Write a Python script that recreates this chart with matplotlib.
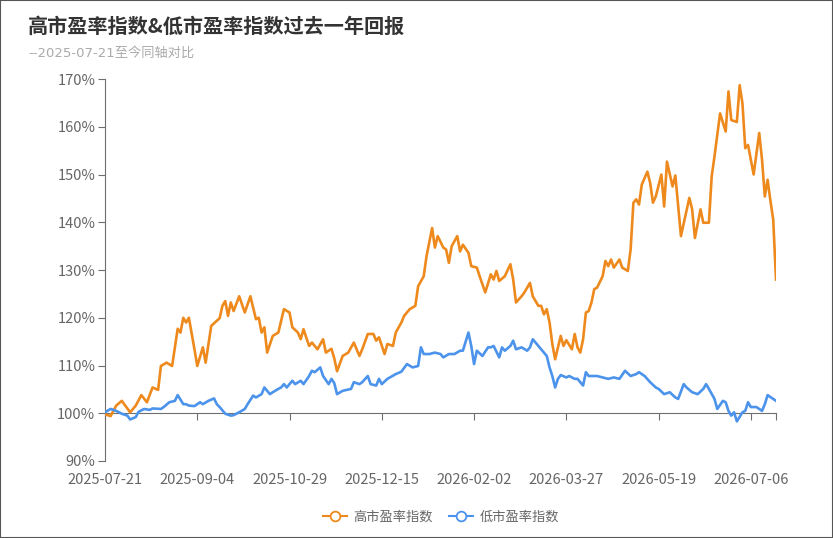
import matplotlib

matplotlib.use("Agg")
import matplotlib.pyplot as plt
from matplotlib.lines import Line2D
from matplotlib.patches import Rectangle
from matplotlib.ticker import FuncFormatter

plt.rcParams["font.family"] = ["Noto Sans CJK SC", "DejaVu Sans"]

TITLE = "高市盈率指数&低市盈率指数过去一年回报"
SUBTITLE = "--2025-07-21至今同轴对比"
HIGH_NAME = "高市盈率指数"
LOW_NAME = "低市盈率指数"

# trading-day index of each tick label (every 33 trading days)
tick_labels = ["2025-07-21", "2025-09-04", "2025-10-29", "2025-12-15",
               "2026-02-02", "2026-03-27", "2026-05-19", "2026-07-06"]
tick_step = 33
last_day = 240

# 高市盈率指数, % of start value, at trading-day index
high_idx = [0, 2, 4, 6, 9, 11, 13, 15, 17, 19, 20, 22, 24, 26, 27, 28, 29, 30,
            32, 33, 35, 36, 38, 41, 42, 43, 44, 45, 46, 48, 50, 52, 54, 55, 56,
            57, 58, 60, 62, 64, 66, 67, 69, 70, 71, 73, 74, 76, 78, 79, 81, 82,
            83, 85, 87, 89, 91, 92, 94, 96, 97, 98, 100, 101, 103, 104, 106, 107,
            109, 111, 112, 114, 115, 117, 118, 119, 121, 122, 123, 124, 126, 127,
            128, 130, 131, 133, 134, 136, 138, 139, 140, 141, 143, 145, 146, 147,
            149, 150, 152, 153, 155, 156, 157, 158, 159, 160, 161, 163, 164, 165,
            167, 168, 169, 170, 171, 172, 173, 174, 175, 176, 178, 179, 180, 181,
            182, 184, 185, 187, 188, 189, 190, 191, 192, 194, 195, 196, 197, 199,
            200, 201, 203, 204, 206, 209, 210, 211, 213, 214, 216, 217, 218, 220,
            222, 223, 224, 226, 227, 228, 229, 230, 232, 234, 235, 236, 237, 238,
            239, 240]
high_val = [99.8, 99.4, 101.6, 102.6, 100.2, 101.6, 103.8, 102.3, 105.4, 104.9,
            109.9, 110.6, 109.9, 117.7, 116.9, 120.0, 119.0, 120.0, 113.4, 109.9,
            113.8, 110.6, 118.3, 119.9, 122.5, 123.5, 120.4, 123.2, 121.4, 124.5,
            121.1, 124.5, 119.7, 120.0, 116.9, 118.0, 112.7, 116.2, 116.9, 121.8,
            121.1, 118.0, 116.9, 115.5, 117.6, 114.1, 114.8, 113.4, 115.5, 112.7,
            113.5, 111.5, 108.8, 112.0, 112.7, 114.8, 112.0, 113.4, 116.6, 116.6,
            115.2, 115.9, 112.4, 114.5, 114.1, 116.9, 119.0, 120.4, 121.8, 122.5,
            126.6, 128.7, 132.9, 138.8, 134.7, 137.1, 134.7, 134.3, 131.5, 135.0,
            137.1, 133.9, 135.3, 133.6, 130.8, 130.5, 128.7, 125.3, 129.1, 128.0,
            129.8, 127.7, 128.7, 131.2, 128.0, 123.2, 124.5, 125.3, 127.3, 124.5,
            122.5, 122.5, 120.7, 121.8, 119.0, 114.5, 111.3, 116.2, 114.1, 115.3,
            113.4, 116.6, 113.8, 112.7, 115.5, 121.1, 121.4, 123.2, 126.0, 126.3,
            128.7, 131.9, 130.8, 132.2, 130.5, 132.2, 130.5, 129.8, 134.3, 144.1,
            144.8, 143.7, 147.9, 150.6, 148.2, 144.1, 145.4, 150.0, 143.3, 152.7,
            147.5, 149.8, 137.1, 145.1, 142.7, 136.7, 142.7, 139.9, 139.9, 149.6,
            153.8, 162.8, 159.0, 167.4, 161.4, 161.0, 168.7, 164.9, 155.5, 156.2,
            150.0, 158.7, 153.1, 145.4, 148.9, 144.5, 140.6, 128.0]

# 低市盈率指数
low_idx = [0, 2, 4, 6, 8, 9, 11, 12, 14, 16, 17, 20, 21, 23, 25, 26, 28, 29, 30,
           32, 34, 35, 37, 39, 40, 41, 43, 45, 46, 48, 50, 51, 53, 54, 56, 57, 59,
           60, 62, 63, 64, 65, 67, 68, 70, 71, 73, 74, 75, 77, 78, 80, 81, 82, 83,
           85, 88, 89, 91, 92, 94, 95, 97, 98, 99, 101, 104, 106, 108, 110, 112,
           113, 114, 116, 118, 120, 121, 123, 125, 127, 128, 130, 131, 132, 133,
           135, 137, 138, 139, 141, 142, 143, 145, 146, 147, 149, 151, 152, 153,
           155, 157, 158, 159, 160, 161, 162, 163, 165, 166, 168, 169, 171, 172,
           173, 176, 178, 180, 182, 184, 186, 188, 190, 191, 193, 195, 197, 198,
           200, 202, 204, 205, 207, 208, 210, 212, 214, 215, 216, 218, 219, 221,
           222, 223, 224, 225, 226, 228, 229, 230, 231, 233, 235, 236, 237, 239,
           240]
low_val = [100.2, 100.9, 100.5, 99.9, 99.5, 98.7, 99.2, 100.3, 100.9, 100.7,
           101.0, 100.9, 101.3, 102.3, 102.6, 103.8, 101.9, 101.9, 101.6, 101.5,
           102.3, 101.9, 102.6, 103.1, 101.9, 101.3, 99.9, 99.5, 99.6, 100.2,
           100.9, 101.9, 103.7, 103.3, 104.0, 105.4, 104.0, 104.4, 105.1, 105.4,
           106.1, 105.4, 106.8, 106.1, 106.8, 106.1, 107.8, 108.9, 108.6, 109.6,
           107.8, 106.1, 107.2, 106.3, 104.0, 104.7, 105.1, 106.5, 106.1, 106.5,
           107.8, 106.1, 105.8, 107.2, 106.1, 107.2, 108.2, 108.7, 110.3, 109.6,
           109.9, 113.8, 112.4, 112.4, 112.7, 112.4, 111.7, 112.4, 112.4, 113.1,
           113.1, 116.9, 114.1, 110.3, 113.1, 112.0, 113.8, 113.8, 114.1, 111.7,
           113.8, 113.1, 114.1, 115.2, 113.4, 113.8, 113.1, 113.8, 115.5, 114.1,
           112.7, 112.0, 109.6, 107.8, 105.4, 107.2, 108.0, 107.5, 107.8, 107.2,
           107.2, 105.8, 108.6, 107.8, 107.8, 107.5, 107.2, 107.5, 107.2, 108.9,
           107.8, 108.2, 108.6, 107.8, 106.5, 105.4, 105.1, 104.0, 104.4, 103.3,
           103.0, 106.1, 105.4, 104.4, 104.0, 105.1, 106.1, 105.1, 103.0, 100.9,
           102.6, 102.3, 100.5, 99.5, 100.2, 98.3, 100.2, 100.5, 102.3, 101.3,
           101.3, 100.5, 101.9, 103.8, 103.0, 102.6]

HIGH_COLOR = "#EE8A1D"
LOW_COLOR = "#4C93EB"
AXIS_COLOR = "#6E6E6E"
TEXT_COLOR = "#666666"

fig = plt.figure(figsize=(8.33, 5.38), dpi=100)
ax = fig.add_axes([105 / 833, 77 / 538, 671 / 833, 382 / 538])

ax.plot(high_idx, high_val, color=HIGH_COLOR, linewidth=1.9,
        solid_joinstyle="round", zorder=3)
ax.plot(low_idx, low_val, color=LOW_COLOR, linewidth=1.9,
        solid_joinstyle="round", zorder=3)

ax.set_xlim(0, last_day)
ax.set_ylim(90, 170)
ax.set_yticks(range(90, 171, 10))
ax.yaxis.set_major_formatter(FuncFormatter(lambda v, _: f"{v:.0f}%"))

for side in ("top", "right"):
    ax.spines[side].set_visible(False)
ax.spines["left"].set_color(AXIS_COLOR)
ax.spines["bottom"].set_color(AXIS_COLOR)
ax.spines["bottom"].set_position(("data", 100))

tick_pos = [i * tick_step for i in range(len(tick_labels))] + [last_day]
ax.set_xticks(tick_pos)
ax.tick_params(axis="x", direction="out", length=5, color=AXIS_COLOR,
               labelbottom=False)
ax.tick_params(axis="y", direction="out", length=5, color=AXIS_COLOR,
               labelcolor=TEXT_COLOR, labelsize=10.5, pad=2)

# date labels sit below the plot, not on the 100% line
sec = ax.secondary_xaxis(0)
sec.set_xticks(tick_pos[:-1], tick_labels)
sec.spines["bottom"].set_visible(False)
sec.tick_params(length=0, labelcolor=TEXT_COLOR, labelsize=10.5, pad=9)

fig.text(28 / 833, 1 - 26 / 538, TITLE, fontsize=14.5, fontweight="bold",
         color="#333333", va="center")
fig.text(28 / 833, 1 - 53 / 538, SUBTITLE, fontsize=9.5, color="#AAAAAA",
         va="center", family=["DejaVu Sans", "Noto Sans CJK SC"])

handles = [
    Line2D([], [], color=HIGH_COLOR, linewidth=1.5, marker="o", markersize=7,
           markerfacecolor="white", markeredgewidth=1.3),
    Line2D([], [], color=LOW_COLOR, linewidth=1.5, marker="o", markersize=7,
           markerfacecolor="white", markeredgewidth=1.3),
]
fig.legend(handles, [HIGH_NAME, LOW_NAME], loc="center",
           bbox_to_anchor=(441 / 833, 1 - 517 / 538), ncol=2, frameon=False,
           fontsize=9.5, labelcolor=TEXT_COLOR, handlelength=1.8,
           handletextpad=0.5, columnspacing=1.2)

fig.patches.append(Rectangle((0, 0), 1, 1, transform=fig.transFigure,
                             fill=False, edgecolor="#555555", linewidth=1.5))

fig.savefig("out.png", dpi=100)
